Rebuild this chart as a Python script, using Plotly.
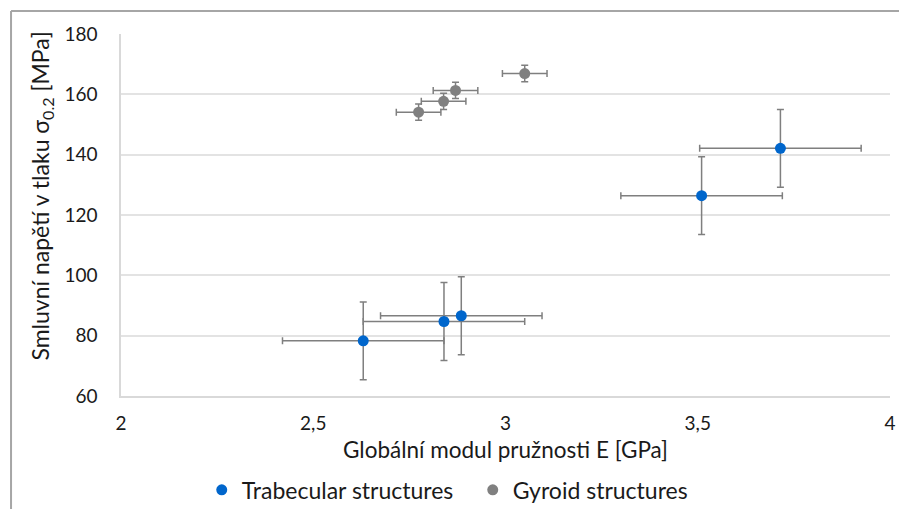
import plotly.graph_objects as go

# Trabecular structures
trab_E = [2.63, 2.84, 2.885, 3.51, 3.715]
trab_E_err = [0.21, 0.21, 0.21, 0.21, 0.21]
trab_s = [78.3, 84.7, 86.6, 126.4, 142.1]
trab_s_err = [12.9, 12.9, 12.9, 12.9, 12.9]

# Gyroid structures
gyr_E = [2.774, 2.839, 2.87, 3.05]
gyr_E_err = [0.058, 0.058, 0.058, 0.058]
gyr_s = [154.1, 157.7, 161.3, 166.9]
gyr_s_err = [2.7, 2.7, 2.7, 2.7]

x_ticks = [2, 2.5, 3, 3.5, 4]
y_ticks = [60, 80, 100, 120, 140, 160, 180]

FONT = "Lato"
TXT = "#1a1a1a"
ERR = "#7f7f7f"

fig = go.Figure()
fig.add_trace(go.Scatter(
    x=trab_E, y=trab_s, mode="markers", name="Trabecular structures",
    marker=dict(color="#0066CC", size=11),
    error_x=dict(type="data", array=trab_E_err, color=ERR, thickness=1.5, width=3.5),
    error_y=dict(type="data", array=trab_s_err, color=ERR, thickness=1.5, width=3.5),
))
fig.add_trace(go.Scatter(
    x=gyr_E, y=gyr_s, mode="markers", name="Gyroid structures",
    marker=dict(color="#808080", size=11),
    error_x=dict(type="data", array=gyr_E_err, color=ERR, thickness=1.5, width=3.5),
    error_y=dict(type="data", array=gyr_s_err, color=ERR, thickness=1.5, width=3.5),
))

fig.update_layout(
    width=899, height=509,
    margin=dict(l=121, r=9, t=34, b=113, autoexpand=False),
    paper_bgcolor="white", plot_bgcolor="white",
    separators=", ",
    font=dict(family=FONT, color=TXT, size=19),
    showlegend=True,
    legend=dict(orientation="h", x=0.105, xanchor="left", y=-0.2, yanchor="top",
                font=dict(size=23, family=FONT, color=TXT), itemwidth=30,
                entrywidth=226, entrywidthmode="pixels"),
    xaxis=dict(range=[2, 4], tickvals=x_ticks, showgrid=False, zeroline=False,
               showline=True, linecolor="#d9d9d9", linewidth=1.5, automargin=False,
               tickfont=dict(size=19), ticks="", ticklabelstandoff=9,
               title=dict(text="Globální modul pružnosti E [GPa]", font=dict(size=22.5), standoff=10)),
    yaxis=dict(range=[60, 180], tickvals=y_ticks, showgrid=True, gridcolor="#e3e3e3", gridwidth=1.5,
               zeroline=False, showline=True, linecolor="#d9d9d9", linewidth=1.5, automargin=False,
               tickfont=dict(size=19), ticks="", ticklabelstandoff=18),
    annotations=[
        dict(text="Smluvní napětí v tlaku σ<sub>0.2</sub> [MPa]", textangle=-90,
             xref="paper", yref="paper", x=-0.1027, y=0.551, xanchor="center", yanchor="middle",
             showarrow=False, font=dict(size=23, family=FONT, color=TXT)),
    ],
    shapes=[
        dict(type="line", xref="paper", yref="paper", x0=-0.143, x1=-0.143, y0=-0.32, y1=1.0635,
             line=dict(color="#a6a6a6", width=2)),
        dict(type="line", xref="paper", yref="paper", x0=-0.143, x1=1.02, y0=1.0635, y1=1.0635,
             line=dict(color="#a6a6a6", width=2)),
    ],
)

fig.write_html("out.html", config={"displayModeBar": False},
               post_script="document.body.style.margin='0px';document.body.style.overflow='hidden';")
